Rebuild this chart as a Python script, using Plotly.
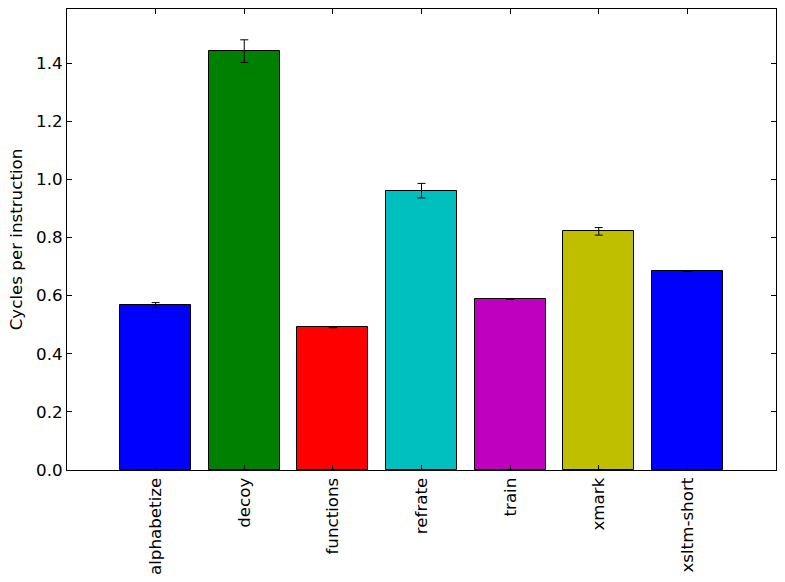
import plotly.graph_objects as go

categories = ["alphabetize", "decoy", "functions", "refrate", "train", "xmark", "xsltm-short"]
cpi = [0.567, 1.441, 0.491, 0.961, 0.588, 0.821, 0.684]
cpi_err = [0.009, 0.039, 0.0015, 0.025, 0.0015, 0.013, 0.0015]
colors = ["#0000ff", "#008000", "#ff0000", "#00bfbf", "#bf00bf", "#bfbf00", "#0000ff"]

positions = list(range(len(categories)))

fig = go.Figure()
fig.add_trace(go.Bar(
    x=positions, y=cpi, width=0.8,
    marker=dict(color=colors, line=dict(color="black", width=1)),
    error_y=dict(type="data", array=cpi_err, visible=True, color="black", thickness=1, width=4),
))

font = dict(family="DejaVu Sans", size=16.7, color="black")
fig.update_layout(
    width=785, height=582,
    margin=dict(l=67, r=9, t=9, b=112),
    plot_bgcolor="white", paper_bgcolor="white",
    showlegend=False, font=font, bargap=0,
)
fig.update_xaxes(
    range=[-1, 7], tickmode="array", tickvals=positions, ticktext=categories,
    tickangle=-90, ticks="inside", ticklen=5, tickcolor="black",
    showline=True, linecolor="black", linewidth=1, mirror="ticks",
    showgrid=False, zeroline=False, tickfont=font, layer="above traces",
    automargin=False,
)
fig.update_yaxes(
    range=[0, 1.586], tickmode="array",
    tickvals=[0, 0.2, 0.4, 0.6, 0.8, 1.0, 1.2, 1.4],
    ticktext=["0.0", "0.2", "0.4", "0.6", "0.8", "1.0", "1.2", "1.4"],
    ticks="inside", ticklen=5, tickcolor="black",
    showline=True, linecolor="black", linewidth=1, mirror="ticks",
    showgrid=False, zeroline=False, tickfont=font, layer="above traces",
    automargin=False,
    title=dict(text="Cycles per instruction", font=font, standoff=9),
)
fig.write_html("out.html")
